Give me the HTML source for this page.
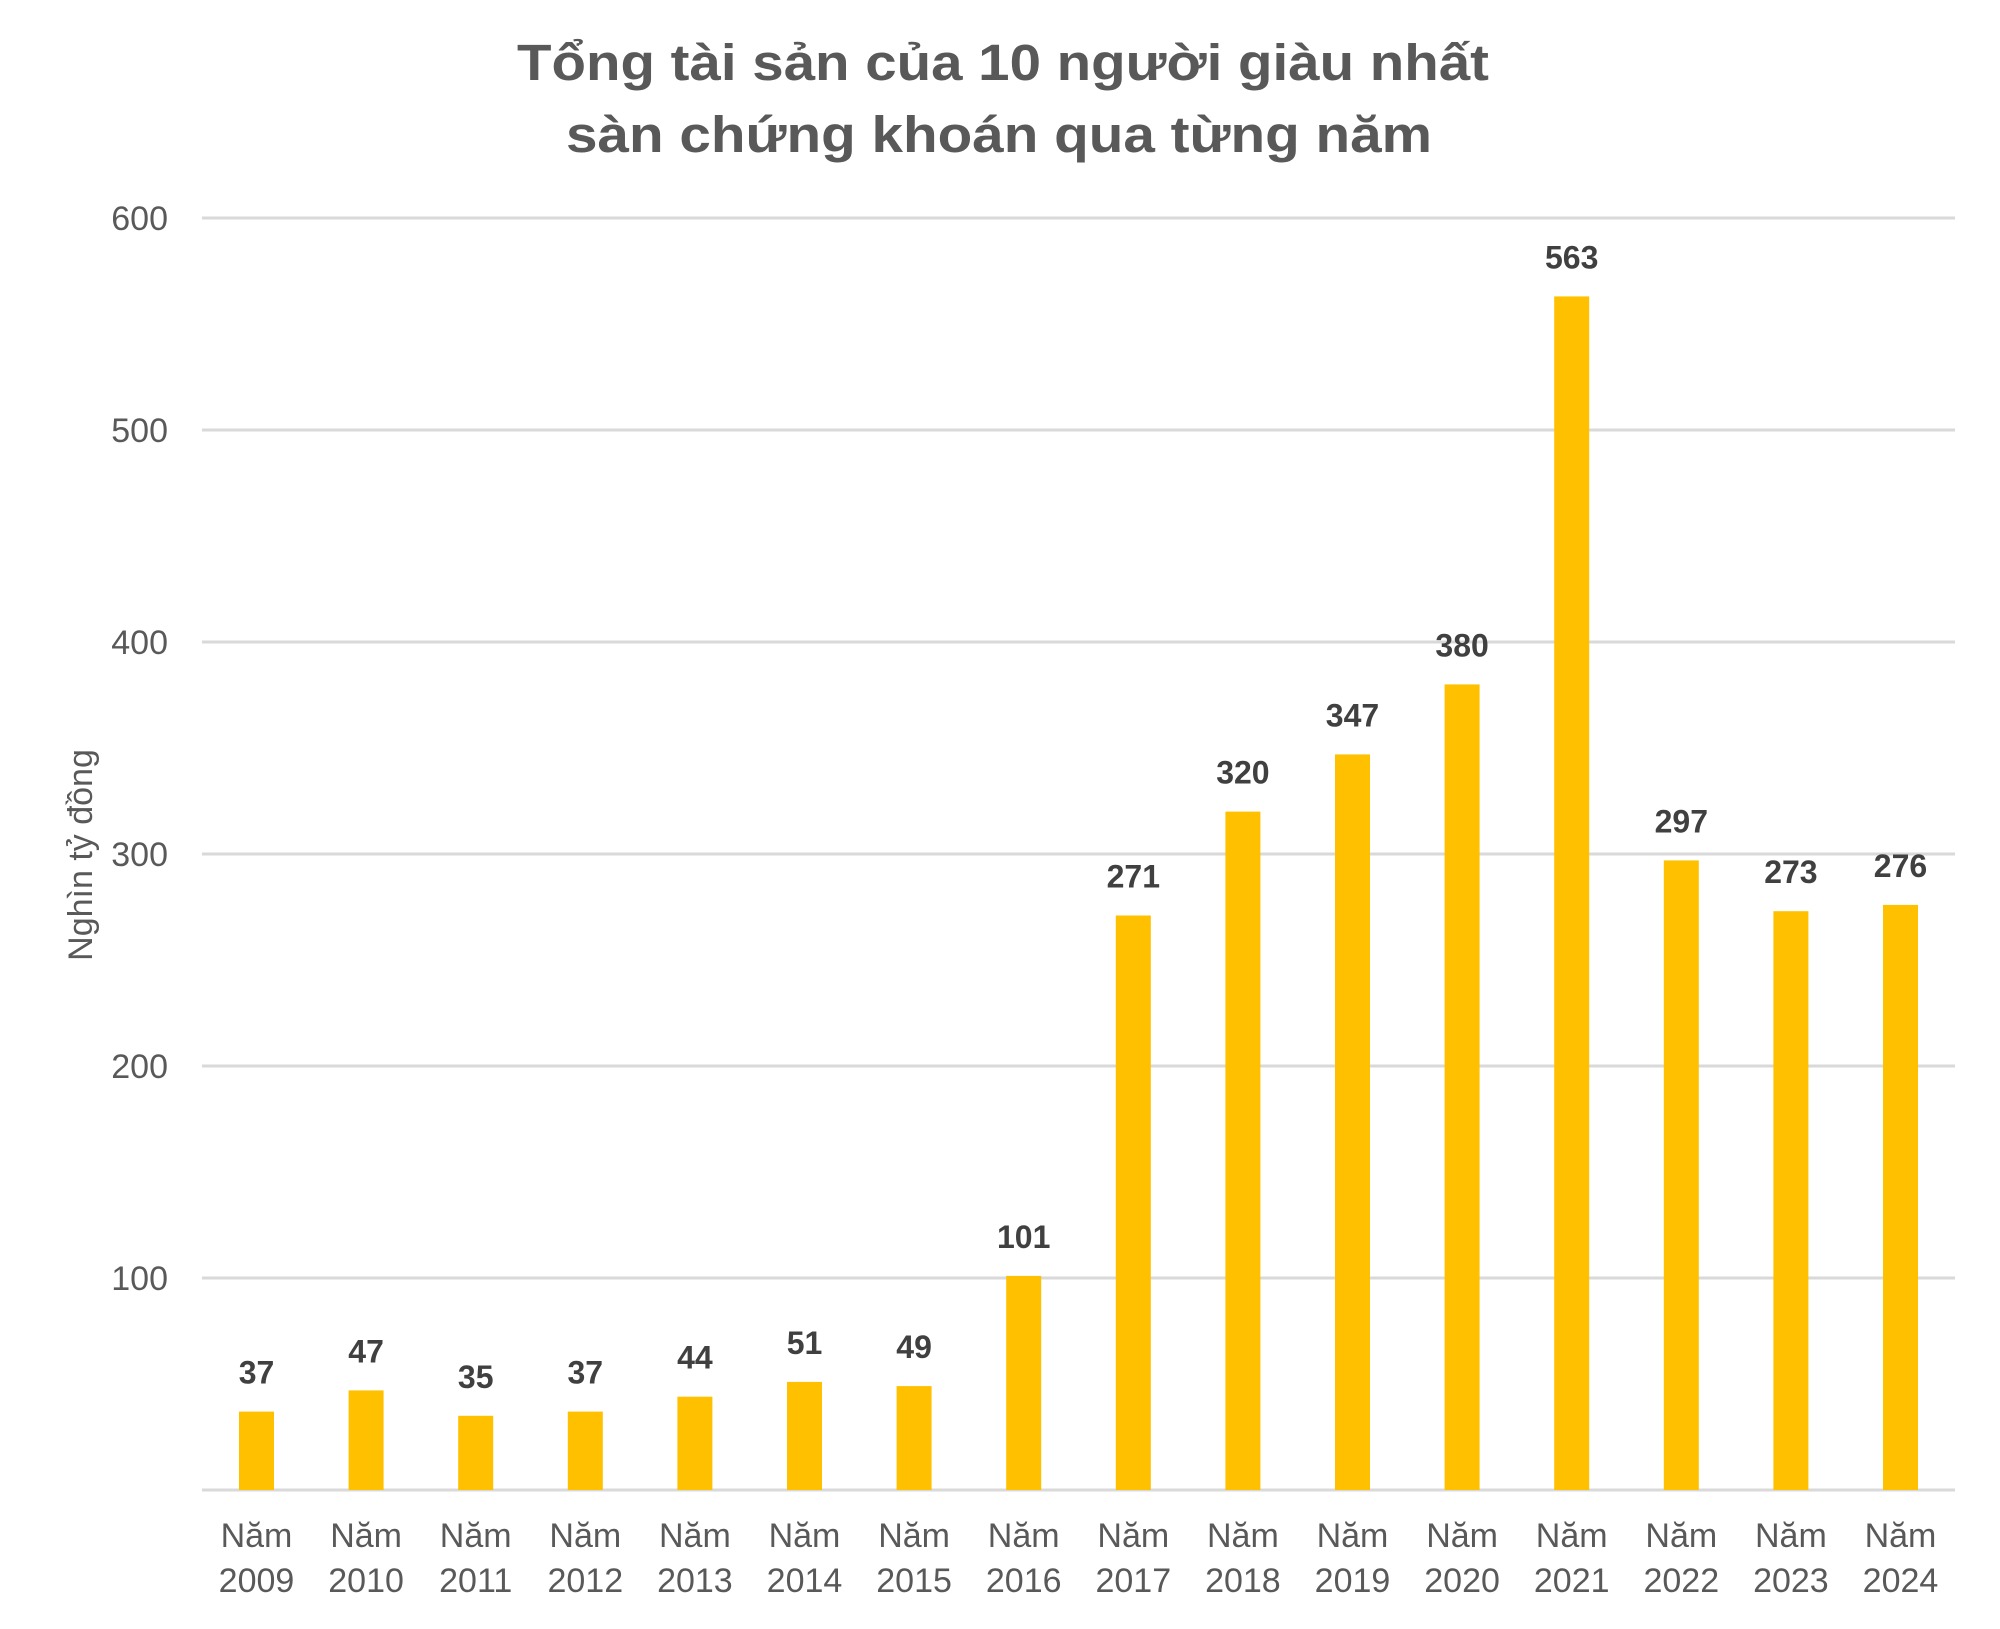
<!DOCTYPE html>
<html><head><meta charset="utf-8"><style>html,body{margin:0;padding:0;background:#fff}svg{display:block}</style></head>
<body>
<svg width="2000" height="1629" viewBox="0 0 2000 1629" xmlns="http://www.w3.org/2000/svg" font-family="'Liberation Sans', sans-serif">
<rect width="2000" height="1629" fill="#fff"/>
<text x="1003" y="80" text-anchor="middle" font-size="51" font-weight="bold" fill="#595959" textLength="972" lengthAdjust="spacingAndGlyphs">Tổng tài sản của 10 người giàu nhất</text>
<text x="999" y="152" text-anchor="middle" font-size="51" font-weight="bold" fill="#595959" textLength="866" lengthAdjust="spacingAndGlyphs">sàn chứng khoán qua từng năm</text>
<g stroke="#d9d9d9" stroke-width="3">
<line x1="202" x2="1955" y1="218" y2="218"/>
<line x1="202" x2="1955" y1="430" y2="430"/>
<line x1="202" x2="1955" y1="642" y2="642"/>
<line x1="202" x2="1955" y1="854" y2="854"/>
<line x1="202" x2="1955" y1="1066" y2="1066"/>
<line x1="202" x2="1955" y1="1278" y2="1278"/>
<line x1="202" x2="1955" y1="1490" y2="1490"/>
</g>
<g font-size="34" fill="#595959" text-anchor="end">
<text x="168" y="230">600</text>
<text x="168" y="442">500</text>
<text x="168" y="654">400</text>
<text x="168" y="866">300</text>
<text x="168" y="1078">200</text>
<text x="168" y="1290">100</text>
</g>
<text transform="translate(92,855) rotate(-90)" text-anchor="middle" font-size="34" fill="#595959">Nghìn tỷ đồng</text>
<g fill="#ffc000">
<rect x="239" y="1411.6" width="35" height="78.4"/>
<rect x="348.6" y="1390.4" width="35" height="99.6"/>
<rect x="458.2" y="1415.8" width="35" height="74.2"/>
<rect x="567.8" y="1411.6" width="35" height="78.4"/>
<rect x="677.4" y="1396.7" width="35" height="93.3"/>
<rect x="787" y="1381.9" width="35" height="108.1"/>
<rect x="896.6" y="1386.1" width="35" height="103.9"/>
<rect x="1006.2" y="1275.9" width="35" height="214.1"/>
<rect x="1115.8" y="915.5" width="35" height="574.5"/>
<rect x="1225.4" y="811.6" width="35" height="678.4"/>
<rect x="1335" y="754.4" width="35" height="735.6"/>
<rect x="1444.6" y="684.4" width="35" height="805.6"/>
<rect x="1554.2" y="296.4" width="35" height="1193.6"/>
<rect x="1663.8" y="860.4" width="35" height="629.6"/>
<rect x="1773.4" y="911.2" width="35" height="578.8"/>
<rect x="1883" y="904.9" width="35" height="585.1"/>
</g>
<g font-size="32" font-weight="bold" fill="#404040" text-anchor="middle">
<text x="256.5" y="1383.6">37</text>
<text x="366.1" y="1362.4">47</text>
<text x="475.7" y="1387.8">35</text>
<text x="585.3" y="1383.6">37</text>
<text x="694.9" y="1368.7">44</text>
<text x="804.5" y="1353.9">51</text>
<text x="914.1" y="1358.1">49</text>
<text x="1023.7" y="1247.9">101</text>
<text x="1133.3" y="887.5">271</text>
<text x="1242.9" y="783.6">320</text>
<text x="1352.5" y="726.4">347</text>
<text x="1462.1" y="656.4">380</text>
<text x="1571.7" y="268.4">563</text>
<text x="1681.3" y="832.4">297</text>
<text x="1790.9" y="883.2">273</text>
<text x="1900.5" y="876.9">276</text>
</g>
<g font-size="34" fill="#595959" text-anchor="middle">
<text x="256.5" y="1547">Năm</text><text x="256.5" y="1592">2009</text>
<text x="366.1" y="1547">Năm</text><text x="366.1" y="1592">2010</text>
<text x="475.7" y="1547">Năm</text><text x="475.7" y="1592">2011</text>
<text x="585.3" y="1547">Năm</text><text x="585.3" y="1592">2012</text>
<text x="694.9" y="1547">Năm</text><text x="694.9" y="1592">2013</text>
<text x="804.5" y="1547">Năm</text><text x="804.5" y="1592">2014</text>
<text x="914.1" y="1547">Năm</text><text x="914.1" y="1592">2015</text>
<text x="1023.7" y="1547">Năm</text><text x="1023.7" y="1592">2016</text>
<text x="1133.3" y="1547">Năm</text><text x="1133.3" y="1592">2017</text>
<text x="1242.9" y="1547">Năm</text><text x="1242.9" y="1592">2018</text>
<text x="1352.5" y="1547">Năm</text><text x="1352.5" y="1592">2019</text>
<text x="1462.1" y="1547">Năm</text><text x="1462.1" y="1592">2020</text>
<text x="1571.7" y="1547">Năm</text><text x="1571.7" y="1592">2021</text>
<text x="1681.3" y="1547">Năm</text><text x="1681.3" y="1592">2022</text>
<text x="1790.9" y="1547">Năm</text><text x="1790.9" y="1592">2023</text>
<text x="1900.5" y="1547">Năm</text><text x="1900.5" y="1592">2024</text>
</g>
</svg>
</body></html>
